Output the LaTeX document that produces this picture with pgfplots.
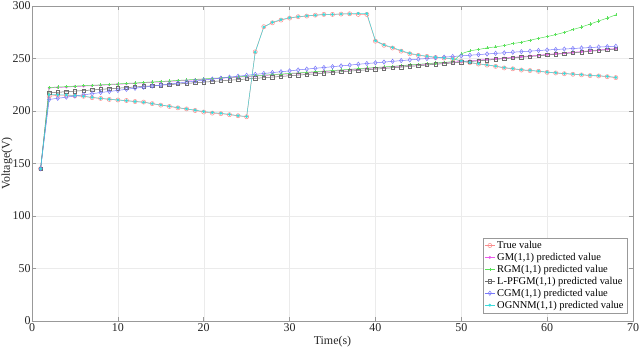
\documentclass[border=0pt]{standalone}
\usepackage{fontspec}
\setmainfont{Liberation Serif}
\usepackage{pgfplots}
\usepackage{pgfplotstable}
\pgfplotsset{compat=1.18}
\definecolor{cTrue}{RGB}{250,140,140}
\definecolor{cGM}{RGB}{235,90,235}
\definecolor{cRGM}{RGB}{90,225,90}
\definecolor{cLP}{RGB}{110,110,110}
\definecolor{cCGM}{RGB}{120,120,250}
\definecolor{cOG}{RGB}{60,220,220}
\pgfplotstableread{
t T GM RGM LP CGM OG
1 145 145 145 145 145 145
2 214 222.0 222.4 217.3 211.0 215.5
3 215 222.4 222.8 217.8 212.1 215.5
4 215 222.8 223.2 218.4 213.2 215.3
5 214.5 223.3 223.7 218.9 214.3 214.8
6 214 223.7 224.1 219.5 215.4 214
7 212.7 224.1 224.5 220.0 216.5 213
8 212 224.5 224.9 220.6 217.6 212
9 211 225.0 225.4 221.2 218.6 211.2
10 210.5 225.4 225.8 221.7 219.6 210.5
11 210 225.9 226.3 222.3 220.7 209.8
12 209 226.3 226.7 222.9 221.7 209
13 208.5 226.8 227.2 223.4 222.7 208.3
14 207 227.3 227.7 224.0 223.7 207
15 205.6 227.7 228.1 224.6 224.7 205.8
16 204.3 228.2 228.6 225.2 225.7 204.5
17 203 228.7 229.1 225.7 226.6 203.3
18 202 229.2 229.6 226.3 227.6 202
19 200.5 229.7 230.1 226.9 228.5 200.8
20 199 230.2 230.6 227.5 229.5 199.5
21 198 230.7 231.1 228.1 230.4 198.5
22 197.5 231.2 231.6 228.7 231.3 197.8
23 196.5 231.7 232.1 229.3 232.2 196.8
24 195.5 232.2 232.6 229.9 233.1 195.5
25 194.5 232.7 233.1 230.5 234.0 194.8
26 256.3 233.2 233.6 231.1 234.9 256
27 280.3 233.8 234.2 231.7 235.7 280
28 284 234.3 234.7 232.3 236.6 284.5
29 286.6 234.8 235.2 232.9 237.4 287
30 288.5 235.4 235.8 233.6 238.2 288.8
31 289.8 235.9 236.3 234.2 239.1 289.8
32 290.4 236.5 236.9 234.8 239.9 290.6
33 291.3 237.0 237.4 235.4 240.7 291.2
34 292 237.6 238.0 236.1 241.4 291.8
35 292 238.1 238.5 236.7 242.2 292
36 292.3 238.7 239.1 237.3 243.0 292.4
37 292.6 239.3 239.7 238.0 243.7 292.5
38 292 239.9 240.3 238.6 244.5 293
39 292 240.5 240.9 239.2 245.2 292.8
40 266.5 241.0 241.4 239.9 245.9 267
41 262.6 241.6 242.0 240.5 246.6 263
42 260 242.2 242.6 241.2 247.3 260.5
43 257 242.8 243.2 241.8 248.0 257.5
44 254.5 243.5 243.9 242.5 248.7 255
45 253 244.1 244.5 243.1 249.4 253.3
46 252 244.7 245.1 243.8 250.0 252.2
47 251 245.3 245.7 244.5 250.7 251.2
48 250.4 245.9 246.3 245.1 251.3 250.6
49 249.7 246.6 247.0 245.8 251.9 249.7
50 247.5 247.2 254.5 246.5 252.5 247.8
51 246 247.9 257.3 247.1 253.1 246.2
52 244.7 248.5 258.6 247.8 253.7 245
53 243.7 249.2 260.1 248.5 254.3 243.9
54 242.5 249.8 261.1 249.2 254.9 242.7
55 241 250.5 262.3 249.9 255.4 241.3
56 240.2 251.1 264.2 250.5 256.0 240.4
57 239 251.8 265.5 251.2 256.5 239.3
58 238.5 252.5 267.4 251.9 257.0 238.7
59 237.8 253.2 269.2 252.6 257.6 238
60 236.8 253.9 270.9 253.3 258.1 237
61 236.2 254.5 272.7 254.0 258.6 236.4
62 235.5 255.2 274.9 254.7 259.0 235.7
63 235 255.9 277.5 255.4 259.5 235.2
64 234.4 256.6 280.0 256.1 260.0 234.6
65 233.7 257.4 282.8 256.9 260.4 234
66 233.4 258.1 285.7 257.6 260.9 233.6
67 232.7 258.8 288.5 258.3 261.3 233
68 231.8 259.5 291.6 259.0 261.7 232
}\data
\begin{document}
\begin{tikzpicture}
\begin{axis}[
  scale only axis,
  width=601bp, height=315bp,
  xmin=0, xmax=70, ymin=0, ymax=300,
  xtick={0,10,...,70}, ytick={0,50,...,300},
  grid=major,
  major grid style={draw=black!8, line width=0.4pt},
  axis line style={draw=black!40, line width=0.7pt},
  tick style={draw=black!40, line width=0.5pt},
  major tick length=4bp,
  tick label style={font=\fontsize{12}{14}\selectfont, text=black!85},
  xticklabel style={yshift=1bp},
  yticklabel style={xshift=2bp},
  /pgf/number format/assume math mode=true,
  xlabel={Time(s)}, ylabel={Voltage(V)},
  every axis x label/.style={at={([yshift=-21bp]axis description cs:0.5,0)}, anchor=center,
    font=\fontsize{12}{14}\selectfont, text=black!85},
  every axis y label/.style={at={([xshift=-25bp]axis description cs:0,0.5)}, anchor=center, rotate=90,
    font=\fontsize{12}{14}\selectfont, text=black!85},
  legend cell align=left,
  legend style={at={(1,0)}, anchor=south east, xshift=-6bp, yshift=8bp,
    font=\fontsize{10.5}{12}\selectfont, draw=black!40, line width=0.5pt,
    inner sep=1.2pt, row sep=-0.8pt, fill=white},
  legend image code/.code={\draw[mark repeat=2,mark phase=2] plot coordinates {(0cm,0cm) (0.18cm,0cm) (0.36cm,0cm)};},
  every axis plot/.append style={line width=0.5pt, mark options={solid}},
]
\addplot[cTrue, mark=o, mark size=2.1pt] table[x=t, y=T] {\data};
\addlegendentry{True value}
\addplot[cGM, mark=*, mark size=1.1pt] table[x=t, y=GM] {\data};
\addlegendentry{GM(1,1) predicted value}
\addplot[cRGM, mark=+, mark size=1.6pt] table[x=t, y=RGM] {\data};
\addlegendentry{RGM(1,1) predicted value}
\addplot[cLP, mark=square, mark size=1.7pt] table[x=t, y=LP] {\data};
\addlegendentry{L-PFGM(1,1) predicted value}
\addplot[cCGM, mark=diamond, mark size=2.2pt] table[x=t, y=CGM] {\data};
\addlegendentry{CGM(1,1) predicted value}
\addplot[cOG, mark=*, mark size=1.2pt] table[x=t, y=OG] {\data};
\addlegendentry{OGNNM(1,1) predicted value}
\end{axis}
\pgfresetboundingbox
\path ([xshift=-32bp,yshift=-30bp]current axis.south west) rectangle ([xshift=6bp,yshift=6bp]current axis.north east);
\end{tikzpicture}
\end{document}
